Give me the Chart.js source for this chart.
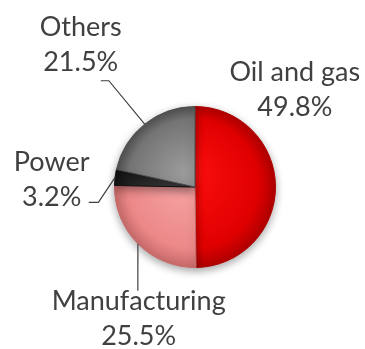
<!DOCTYPE html>
<html lang="en">
<head>
<meta charset="UTF-8">
<script src="https://cdn.jsdelivr.net/npm/chart.js"></script>
<title>Share by sector</title>
<style>
    html, body { margin: 0; padding: 0; background: #fff; }
    .chart-container { width: 365px; height: 349px; position: relative; }
</style>
</head>
<body>
<div class="chart-container">
    <canvas id="myChart"></canvas>
</div>
<script>
// sector shares, clockwise from 12 o'clock
const sectors = ['Oil and gas', 'Manufacturing', 'Power', 'Others'];
const shares = [49.8, 25.5, 3.2, 21.5];

// light / dark tone for each slice (centre -> rim)
const lightTones = ['#ff1010', '#f8a8a8', '#4a4a4a', '#9a9a9a'];
const darkTones = ['#e00000', '#ec8888', '#202020', '#747474'];
const edgeTones = ['#b00000', '#c86a6a', '#111111', '#505050'];

// where each label sits, in pie radii from the centre (x, y of the first line)
// and the bend points of its leader line
const labelSpots = [
    { dx: 1.24, dy: -1.42, leader: null },
    { dx: -0.70, dy: 1.42, leader: [[-0.71, 1.29]] },
    { dx: -1.78, dy: -0.31, leader: [[-1.20, 0.19], [-1.32, 0.19]] },
    { dx: -1.42, dy: -1.99, leader: [[-1.07, -1.32], [-1.17, -1.32]] }
];

function sliceFill(context) {
    const chart = context.chart;
    const area = chart.chartArea;
    if (!area) return lightTones[context.dataIndex];
    const cx = (area.left + area.right) / 2;
    const cy = (area.top + area.bottom) / 2;
    const r = Math.min(area.right - area.left, area.bottom - area.top) / 2;
    const g = chart.ctx.createRadialGradient(cx - r * 0.15, cy - r * 0.2, 0, cx, cy, r);
    g.addColorStop(0, lightTones[context.dataIndex]);
    g.addColorStop(0.8, darkTones[context.dataIndex]);
    g.addColorStop(1, edgeTones[context.dataIndex]);
    return g;
}

// soft drop shadow under the pie
const pieShadow = {
    id: 'pieShadow',
    beforeDatasetsDraw(chart) {
        const ctx = chart.ctx;
        ctx.save();
        ctx.shadowColor = 'rgba(0,0,0,0.35)';
        ctx.shadowBlur = 8;
        ctx.shadowOffsetY = 3;
    },
    afterDatasetsDraw(chart) {
        chart.ctx.restore();
    }
};

// labels with leader lines
const sliceLabels = {
    id: 'sliceLabels',
    afterDraw(chart) {
        const ctx = chart.ctx;
        const meta = chart.getDatasetMeta(0);
        ctx.save();
        meta.data.forEach((arc, i) => {
            const r = arc.outerRadius;
            const cx = arc.x, cy = arc.y;
            const spot = labelSpots[i];
            const mid = (arc.startAngle + arc.endAngle) / 2;
            if (spot.leader) {
                ctx.beginPath();
                ctx.strokeStyle = '#404040';
                ctx.lineWidth = 1.2;
                ctx.moveTo(cx + Math.cos(mid) * r, cy + Math.sin(mid) * r);
                spot.leader.forEach(p => ctx.lineTo(cx + p[0] * r, cy + p[1] * r));
                ctx.stroke();
            }
            ctx.fillStyle = '#404040';
            ctx.font = '27px Lato';
            ctx.textAlign = 'center';
            ctx.textBaseline = 'middle';
            const lx = cx + spot.dx * r;
            const ly = cy + spot.dy * r;
            ctx.fillText(sectors[i], lx, ly);
            ctx.fillText(shares[i].toFixed(1) + '%', lx, ly + 35);
        });
        ctx.restore();
    }
};

const ctx = document.getElementById('myChart').getContext('2d');
const chart = new Chart(ctx, {
    type: 'pie',
    data: {
        labels: sectors,
        datasets: [{
            data: shares,
            backgroundColor: sliceFill,
            borderColor: edgeTones,
            borderWidth: 1
        }]
    },
    options: {
        responsive: true,
        maintainAspectRatio: false,
        animation: false,
        layout: { padding: { left: 114, right: 89, top: 106, bottom: 81 } },
        plugins: {
            legend: { display: false },
            tooltip: { enabled: false }
        }
    },
    plugins: [pieShadow, sliceLabels]
});
</script>
</body>
</html>
